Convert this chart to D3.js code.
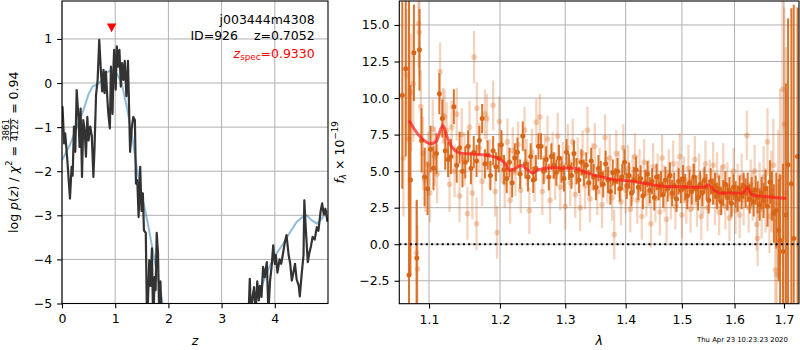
<!DOCTYPE html>
<html><head><meta charset="utf-8">
<script src="https://cdn.jsdelivr.net/npm/d3@7"></script>
<style>body{margin:0;background:#fff}svg{display:block}text{font-family:"DejaVu Sans",sans-serif}</style>
</head><body>
<svg id="c" width="800" height="350"></svg>
<script>
// ---------- data ----------
const zTicks = [0, 1, 2, 3, 4];
const pTicks = [-5, -4, -3, -2, -1, 0, 1];
const lamTicks = [1.1, 1.2, 1.3, 1.4, 1.5, 1.6, 1.7];
const fluxTicks = [-2.5, 0, 2.5, 5, 7.5, 10, 12.5, 15];
const zRange = [0, 5.0];
const pRange = [-5, 1.86];
const lamRange = [1.0606, 1.7316];
const fluxRange = [-4.07, 16.64];
const objName = "j003444m4308";
const objInfo = "ID=926\u00A0\u00A0\u00A0\u00A0z=0.7052";
const zSpec = 0.9330;
const zSpecMarkY = 1.25;
const chi2Num = "3861", chi2Den = "4122", chi2Val = "0.94";
const stamp = "Thu Apr 23 10:23:23 2020";

// log p(z) [z, logp]
const pzLine = [
[0.00,-0.55],[0.01,-0.54],[0.04,-1.37],[0.06,-1.14],[0.10,-1.75],[0.15,-2.62],[0.18,-1.9],[0.20,-2.1],
[0.225,-0.99],[0.25,-1.56],[0.276,-0.16],[0.31,-0.77],[0.33,-1.45],[0.35,-0.58],[0.376,-2.13],[0.40,-0.84],
[0.425,-1.05],[0.45,-1.67],[0.476,-0.77],[0.50,-1.3],[0.53,-0.99],[0.56,-1.2],[0.59,-2.13],[0.61,-1.52],
[0.64,-0.27],[0.67,0.07],[0.70,0.98],[0.73,0.3],[0.755,-0.19],[0.78,0.3],[0.80,-0.23],[0.825,0.26],
[0.85,-0.3],[0.87,-0.69],[0.90,-1.03],[0.92,0.37],[0.95,-0.7],[0.97,0.45],[0.98,0.75],[1.01,-0.15],
[1.03,0.83],[1.055,0.37],[1.08,0.75],[1.105,-0.08],[1.13,0.45],[1.155,0.07],[1.18,0.5],[1.21,-0.3],
[1.24,0.5],[1.28,-1.56],[1.31,-1.03],[1.34,-0.77],[1.37,-0.84],[1.39,-2.28],[1.415,-2.2],[1.44,-3.04],
[1.47,-1.9],[1.495,-2.9],[1.52,-2.5],[1.54,-3.34],[1.575,-3.4],[1.60,-5.6],[1.64,-4.02],[1.665,-4.6],
[1.69,-3.75],[1.715,-5.6],[1.74,-4.4],[1.76,-4.7],[1.78,-3.4],[1.805,-3.86],[1.83,-5.5],[1.85,-4.5],
[1.88,-5.6],[1.95,-6.5],[2.2,-7.0],[2.6,-7.5],[3.0,-7.0],[3.4,-6.0],[3.50,-5.5],[3.53,-4.44],
[3.55,-5.2],[3.58,-4.87],[3.61,-4.63],[3.64,-5.2],[3.67,-4.5],[3.70,-4.93],[3.72,-4.6],[3.75,-4.85],
[3.78,-4.17],[3.81,-4.4],[3.85,-4.06],[3.88,-5.2],[3.91,-4.5],[3.94,-4.17],[3.97,-3.68],[4.00,-4.1],
[4.02,-3.9],[4.05,-4.3],[4.09,-4.0],[4.12,-4.1],[4.15,-3.9],[4.19,-3.6],[4.22,-3.45],[4.26,-3.9],
[4.29,-4.1],[4.32,-4.48],[4.35,-4.3],[4.38,-4.1],[4.41,-4.45],[4.45,-4.6],[4.47,-4.84],[4.50,-4.4],
[4.54,-3.9],[4.555,-2.66],[4.58,-3.25],[4.62,-4.06],[4.65,-3.85],[4.68,-3.7],[4.71,-3.49],[4.75,-3.55],
[4.79,-3.27],[4.82,-3.35],[4.86,-2.92],[4.89,-2.73],[4.92,-2.98],[4.95,-2.85],[4.99,-3.15]];

// smooth prior-weighted curve [z, logp]
const pzSmooth = [
[0.00,-1.75],[0.15,-1.4],[0.28,-1.0],[0.40,-0.62],[0.50,-0.25],[0.58,-0.07],[0.65,-0.04],[0.74,0.05],
[0.83,0.23],[0.93,0.30],[1.03,0.22],[1.12,0.0],[1.21,-0.5],[1.31,-1.14],[1.41,-1.95],[1.50,-2.55],
[1.60,-3.1],[1.70,-3.75],[1.80,-4.4],[1.90,-5.05],[1.95,-5.4],[3.50,-5.4],[3.55,-5.0],[3.72,-4.7],
[3.91,-4.14],[4.03,-3.87],[4.16,-3.64],[4.29,-3.38],[4.41,-3.15],[4.54,-3.02],[4.60,-3.0],[4.69,-3.11],
[4.79,-3.19],[4.88,-3.08],[4.99,-2.89]];

// spectrum, main orientation [lambda, flux, err]
const specDark = [
[1.0645,10.2,6.4],[1.0690,12.0,6.0],[1.0733,-2.1,20],[1.0752,4.4,6.5],[1.0798,13.1,3.3],[1.0836,-0.95,4.0],
[1.0872,13.3,2.8],[1.0900,7.1,2.2],[1.0940,4.6,2.0],[1.0980,3.8,1.8],[1.1020,6.5,1.6],[1.1060,5.2,1.5],
[1.1100,6.2,1.4],[1.1140,10.3,1.4],[1.1180,8.6,1.3],[1.1220,6.4,1.3],[1.1260,5.8,1.2],[1.1300,6.0,1.2],
[1.1340,9.4,1.2],[1.1380,5.4,1.2],[1.1420,6.6,1.1],[1.1460,5.0,1.1],[1.1500,5.6,1.1],[1.1540,6.7,1.1],
[1.1580,5.2,1.1],[1.1620,6.3,1.1],[1.1660,5.7,1.1],[1.1700,7.1,1.0],[1.1740,8.6,1.0],[1.1780,5.5,1.0],
[1.1820,6.1,1.0],[1.1860,4.7,1.0],[1.1900,6.4,1.0],[1.1940,5.3,1.0],[1.1980,5.9,1.0],[1.2020,6.8,1.0],
[1.2060,5.1,1.0],[1.2100,4.5,1.0],[1.2140,5.6,1.0],[1.2180,4.2,1.0],[1.2220,5.9,1.0],[1.2260,6.3,1.0],
[1.2300,4.8,1.0],[1.2340,7.4,1.0],[1.2380,5.5,1.0],[1.2420,4.6,1.0],[1.2460,6.0,0.9],[1.2500,4.4,0.9],
[1.2540,5.2,0.9],[1.2580,6.7,0.9],[1.2620,6.7,0.9],[1.2660,5.0,0.9],[1.2700,5.8,0.9],[1.2740,4.6,0.9],
[1.2780,6.0,0.9],[1.2820,5.4,0.9],[1.2860,4.9,0.9],[1.2900,5.9,0.9],[1.2940,5.1,0.9],[1.2980,4.5,0.9],
[1.3020,6.3,0.9],[1.3060,5.3,0.9],[1.3100,4.7,0.9],[1.3140,6.2,0.9],[1.3180,5.0,0.9],[1.3220,4.4,0.9],
[1.3260,5.6,0.9],[1.3300,4.9,0.9],[1.3340,5.4,0.9],[1.3380,4.2,0.9],[1.3420,5.7,0.9],[1.3460,4.6,0.9],
[1.3500,3.9,0.9],[1.3540,5.2,0.9],[1.3580,4.8,0.9],[1.3620,4.1,0.9],[1.3660,5.5,0.9],[1.3700,4.4,0.9],
[1.3740,3.6,0.9],[1.3780,4.9,0.9],[1.3820,4.3,0.9],[1.3860,5.0,0.9],[1.3900,3.8,0.9],[1.3940,4.6,0.9],
[1.3980,5.6,0.9],[1.4020,4.0,0.9],[1.4060,4.7,0.9],[1.4100,3.5,0.9],[1.4140,4.4,0.9],[1.4180,5.1,0.9],
[1.4220,3.9,0.9],[1.4260,4.5,0.9],[1.4300,3.3,0.9],[1.4340,4.2,0.9],[1.4380,4.8,0.9],[1.4420,3.7,0.9],
[1.4460,4.3,0.9],[1.4500,3.2,0.9],[1.4540,4.6,0.9],[1.4580,3.9,0.9],[1.4620,4.1,0.9],[1.4660,3.4,0.9],
[1.4700,4.4,0.9],[1.4740,3.8,0.9],[1.4780,4.7,0.9],[1.4820,3.5,0.9],[1.4860,4.0,0.9],[1.4900,3.1,0.9],
[1.4940,4.3,0.9],[1.4980,3.7,0.9],[1.5020,4.5,0.9],[1.5060,3.9,0.9],[1.5100,3.3,0.9],[1.5140,4.2,0.9],
[1.5180,3.6,0.9],[1.5220,4.6,0.9],[1.5260,3.8,0.9],[1.5300,3.2,0.9],[1.5340,4.1,0.9],[1.5380,3.5,0.9],
[1.5420,4.4,0.9],[1.5460,3.9,0.9],[1.5500,3.0,0.9],[1.5540,4.3,0.9],[1.5580,3.6,0.9],[1.5620,4.0,0.9],
[1.5660,3.3,0.9],[1.5700,3.8,0.9],[1.5740,2.9,0.9],[1.5780,3.5,0.9],[1.5820,4.1,0.9],[1.5860,3.2,0.9],
[1.5900,3.7,0.9],[1.5940,2.8,0.9],[1.5980,3.9,0.9],[1.6020,3.4,0.9],[1.6060,3.1,0.9],[1.6100,3.8,0.9],
[1.6140,3.3,0.9],[1.6180,4.0,0.9],[1.6220,3.5,1.0],[1.6260,3.9,1.0],[1.6300,3.1,1.0],[1.6340,3.6,1.0],
[1.6380,2.9,1.0],[1.6420,3.7,1.0],[1.6460,3.2,1.1],[1.6500,2.7,1.1],[1.6540,3.5,1.1],[1.6580,3.0,1.2],
[1.6620,3.8,1.3],[1.6660,2.6,1.4],[1.6710,4.25,1.5],[1.6750,3.3,1.7],[1.6790,2.1,2.0],[1.6840,2.3,2.6],
[1.6890,0.96,3.5],[1.6920,0.27,4.5],[1.6980,-0.5,6.0],[1.7040,2.0,9.0],[1.7085,5.44,10.0],[1.7155,4.14,12.0],
[1.7205,0.39,16.0],[1.7285,6.0,10.2]];

// spectrum, other orientations [lambda, flux, err]
const specLight = [
[1.0660,5.9,4.0],[1.0700,11.6,4.5],[1.0725,7.2,4.5],[1.0760,10.4,4.0],[1.0790,11.0,4.0],[1.0830,-0.6,3.5],
[1.0845,-1.7,3.0],[1.0860,15.1,3.0],[1.0870,14.5,3.0],[1.0890,9.4,2.5],[1.0920,6.2,2.5],[1.0950,4.4,2.2],
[1.0985,5.5,2.2],[1.1010,3.5,2.0],[1.1050,7.9,2.0],[1.1080,6.0,2.0],[1.1110,4.8,2.0],[1.1150,11.8,2.0],
[1.1190,8.8,1.9],[1.1210,8.7,1.9],[1.1240,7.8,1.9],[1.1280,4.1,1.9],[1.1310,8.0,1.8],[1.1350,5.0,1.8],
[1.1380,8.9,1.8],[1.1420,3.3,1.8],[1.1450,7.5,1.8],[1.1490,5.8,1.8],[1.1530,2.1,1.8],[1.1560,8.0,1.8],
[1.1600,3.5,1.8],[1.1625,12.8,1.8],[1.1660,1.4,1.8],[1.1665,9.3,1.8],[1.1700,6.6,1.7],[1.1740,4.3,1.7],
[1.1780,8.9,1.7],[1.1810,8.6,1.7],[1.1850,5.5,1.7],[1.1900,9.5,1.7],[1.1930,3.6,1.7],[1.1957,0.8,1.8],
[1.1990,8.4,1.7],[1.2030,5.9,1.7],[1.2070,4.2,1.7],[1.2110,7.0,1.6],[1.2150,3.0,1.6],[1.2190,6.4,1.6],
[1.2230,4.9,1.6],[1.2270,6.8,1.6],[1.2310,3.7,1.6],[1.2367,7.8,1.6],[1.2400,5.6,1.6],[1.2440,2.3,1.6],
[1.2480,6.3,1.6],[1.2520,4.5,1.6],[1.2547,8.35,1.6],[1.2600,8.7,1.6],[1.2640,3.6,1.6],[1.2680,5.9,1.6],
[1.2720,7.2,1.6],[1.2760,3.0,1.6],[1.2800,6.1,1.6],[1.2840,4.6,1.6],[1.2880,7.4,1.6],[1.2920,3.9,1.6],
[1.2960,5.4,1.6],[1.3000,2.6,1.6],[1.3040,6.6,1.6],[1.3080,4.2,1.6],[1.3120,7.0,1.6],[1.3160,3.4,1.6],
[1.3200,5.7,1.6],[1.3240,2.5,1.6],[1.3280,6.2,1.6],[1.3320,4.0,1.6],[1.3360,7.8,1.6],[1.3400,3.1,1.6],
[1.3440,5.3,1.6],[1.3480,6.7,1.6],[1.3520,3.6,1.6],[1.3560,5.0,1.6],[1.3600,2.7,1.6],[1.3650,7.3,1.6],
[1.3690,4.4,1.6],[1.3730,5.9,1.6],[1.3770,3.2,1.6],[1.3805,0.66,1.7],[1.3840,6.2,1.6],[1.3880,4.8,1.6],
[1.3920,2.9,1.6],[1.3960,6.6,1.6],[1.4000,3.7,1.6],[1.4040,5.2,1.6],[1.4080,2.4,1.6],[1.4120,4.5,1.6],
[1.4160,6.0,1.6],[1.4200,3.0,1.6],[1.4240,4.9,1.6],[1.4280,1.9,1.6],[1.4320,5.6,1.6],[1.4360,3.5,1.6],
[1.4400,4.2,1.6],[1.4440,1.4,1.6],[1.4480,5.3,1.6],[1.4520,3.1,1.6],[1.4560,4.6,1.6],[1.4600,2.2,1.6],
[1.4640,5.9,1.6],[1.4680,3.8,1.6],[1.4720,1.7,1.6],[1.4760,4.9,1.6],[1.4800,3.3,1.6],[1.4840,5.5,1.6],
[1.4880,2.6,1.6],[1.4920,4.1,1.6],[1.4960,6.0,1.6],[1.5000,2.0,1.6],[1.5040,4.4,1.6],[1.5080,3.0,1.6],
[1.5120,5.2,1.6],[1.5160,2.4,1.6],[1.5200,3.9,1.6],[1.5240,5.8,1.6],[1.5280,2.8,1.6],[1.5320,4.6,1.6],
[1.5360,1.9,1.6],[1.5400,3.6,1.6],[1.5440,5.5,1.6],[1.5480,2.5,1.6],[1.5520,4.2,1.6],[1.5586,5.4,1.6],
[1.5620,2.9,1.6],[1.5660,4.7,1.6],[1.5700,2.2,1.6],[1.5740,3.8,1.6],[1.5780,5.3,1.6],[1.5820,2.6,1.6],
[1.5860,4.0,1.6],[1.5900,1.8,1.6],[1.5940,3.4,1.6],[1.5980,5.0,1.6],[1.6020,2.3,1.6],[1.6060,3.9,1.6],
[1.6100,2.0,1.6],[1.6140,4.6,1.6],[1.6180,3.0,1.7],[1.6244,7.44,1.7],[1.6280,2.5,1.7],[1.6320,4.1,1.7],
[1.6360,3.3,1.7],[1.6400,5.0,1.8],[1.6440,1.37,1.8],[1.6460,0.39,1.9],[1.6500,3.7,1.9],[1.6540,2.4,2.0],
[1.6580,4.6,2.1],[1.6620,3.0,2.2],[1.6660,7.0,2.3],[1.6700,1.9,2.5],[1.6740,3.6,2.8],[1.6780,5.4,3.2],
[1.6820,-1.77,3.8],[1.6850,-2.1,4.5],[1.6880,2.8,5.0],[1.6920,4.6,6.0],[1.6970,10.6,7.0],[1.7007,8.2,8.0],
[1.7040,3.5,10.0]];

// best-fit model [lambda, flux]
const model = [
[1.0733,8.46],[1.080,7.9],[1.090,7.25],[1.102,6.87],[1.110,7.05],[1.1187,8.12],[1.125,7.3],[1.132,6.6],
[1.146,6.2],[1.1706,6.14],[1.185,6.05],[1.200,5.8],[1.208,5.5],[1.2144,5.05],[1.222,5.15],[1.2319,5.39],
[1.240,5.15],[1.249,4.87],[1.258,5.1],[1.277,5.23],[1.3145,5.2],[1.325,5.05],[1.3424,4.78],[1.36,4.6],
[1.38,4.42],[1.40,4.35],[1.425,4.22],[1.45,4.05],[1.47,3.95],[1.50,3.93],[1.53,3.9],[1.542,3.92],
[1.549,4.07],[1.556,3.85],[1.572,3.5],[1.60,3.5],[1.615,3.5],[1.6256,3.84],[1.634,3.4],[1.65,3.3],
[1.68,3.2],[1.705,3.12]];

// ---------- drawing ----------
const svg = d3.select("#c");
const FS = 12.5, SS = 8.75;
const TL = 4.86, TP = 4.86;
const L = {x0:62, x1:328, y0:1, y1:303.5};
const R = {x0:399.3, x1:799, y0:1, y1:303.7};
const orange = "#d96616";

const xz = d3.scaleLinear().domain(zRange).range([L.x0, L.x1]);
const yp = d3.scaleLinear().domain(pRange).range([L.y1, L.y0]);
const xl = d3.scaleLog().domain(lamRange).range([R.x0, R.x1]);
const yf = d3.scaleLinear().domain(fluxRange).range([R.y1, R.y0]);

const defs = svg.append("defs");
defs.append("clipPath").attr("id","clipL").append("rect")
  .attr("x",L.x0).attr("y",L.y0).attr("width",L.x1-L.x0).attr("height",L.y1-L.y0);
defs.append("clipPath").attr("id","clipR").append("rect")
  .attr("x",R.x0).attr("y",R.y0).attr("width",R.x1-R.x0).attr("height",R.y1-R.y0);

function grid(g, xs, xt, ys, yt, B){
  g.selectAll(null).data(xt).enter().append("line")
    .attr("x1",d=>xs(d)).attr("x2",d=>xs(d)).attr("y1",B.y0).attr("y2",B.y1)
    .attr("stroke","#b0b0b0").attr("stroke-width",1);
  g.selectAll(null).data(yt).enter().append("line")
    .attr("y1",d=>ys(d)).attr("y2",d=>ys(d)).attr("x1",B.x0).attr("x2",B.x1)
    .attr("stroke","#b0b0b0").attr("stroke-width",1);
}

function axes(xs, xt, xf, ys, yt, yf_, B){
  const gx = svg.append("g").attr("transform",`translate(0,${B.y1})`)
    .call(d3.axisBottom(xs).tickValues(xt).tickFormat(xf).tickSize(TL).tickPadding(6.2));
  const gy = svg.append("g").attr("transform",`translate(${B.x0},0)`)
    .call(d3.axisLeft(ys).tickValues(yt).tickFormat(yf_).tickSize(TL).tickPadding(TP));
  [gx,gy].forEach(g=>{
    g.select(".domain").remove();
    g.selectAll("text").attr("font-family","DejaVu Sans").attr("font-size",FS).attr("fill","#000");
    g.selectAll("line").attr("stroke","#000").attr("stroke-width",1.1);
  });
  svg.append("rect").attr("x",B.x0).attr("y",B.y0).attr("width",B.x1-B.x0).attr("height",B.y1-B.y0)
    .attr("fill","none").attr("stroke","#000").attr("stroke-width",1.1);
}

// ----- left panel -----
const gL = svg.append("g");
grid(gL, xz, zTicks, yp, pTicks, L);
const gLd = svg.append("g").attr("clip-path","url(#clipL)");
const lineZ = d3.line().x(d=>xz(d[0])).y(d=>yp(d[1]));
gLd.append("path").datum(pzSmooth).attr("d",lineZ).attr("fill","none")
  .attr("stroke","#1f77b4").attr("stroke-opacity",0.5).attr("stroke-width",2);
gLd.append("path").datum(pzLine).attr("d",lineZ).attr("fill","none")
  .attr("stroke","#333").attr("stroke-width",2.2).attr("stroke-linejoin","round");
// z_spec marker
{
  const cx = xz(zSpec), cy = yp(zSpecMarkY);
  svg.append("path").attr("d",`M${cx-4.7},${cy-4.3}L${cx+4.7},${cy-4.3}L${cx},${cy+4.4}Z`).attr("fill","red");
}
axes(xz, zTicks, d3.format("d"), yp, pTicks, d3.format("d"), L);

// annotation text
const annX = L.x0 + 0.95*(L.x1-L.x0);
svg.append("text").attr("x",annX).attr("y",24).attr("text-anchor","end").attr("font-size",FS).text(objName);
svg.append("text").attr("x",annX).attr("y",39.5).attr("text-anchor","end").attr("font-size",FS).text(objInfo);

function pieces(g, list){
  let x = 0;
  list.forEach(p=>{
    if(p.frac){
      const n = g.append("text").attr("y",-8.6).attr("font-size",SS).text(p.frac[0]);
      const d = g.append("text").attr("y",0.6).attr("font-size",SS).text(p.frac[1]);
      const w = Math.max(n.node().getComputedTextLength(), d.node().getComputedTextLength()) + 2;
      n.attr("x", x + (w - n.node().getComputedTextLength())/2);
      d.attr("x", x + (w - d.node().getComputedTextLength())/2);
      g.append("line").attr("x1",x+0.5).attr("x2",x+w-0.5).attr("y1",-6.9).attr("y2",-6.9)
        .attr("stroke","#000").attr("stroke-width",0.8);
      x += w;
      return;
    }
    const t = g.append("text").attr("x",x).attr("y",p.dy||0).attr("font-size",p.s||FS)
      .attr("font-style",p.it?"italic":"normal").attr("fill",p.c||"#000").text(p.t);
    x += t.node().getComputedTextLength();
  });
  return x;
}

// z_spec text (red)
{
  const g = svg.append("g");
  const w = pieces(g,[{t:"z",it:true,c:"red"},{t:"spec",s:SS,dy:2.6,c:"red"},{t:"=0.9330",c:"red"}]);
  g.attr("transform",`translate(${annX-w},57.5)`);
}

// left y label
{
  const g = svg.append("g");
  const w = pieces(g,[{t:"log\u00A0"},{t:"p",it:true},{t:"("},{t:"z",it:true},{t:")\u00A0/\u00A0"},
    {t:"\u03C7",it:true},{t:"2",s:SS,dy:-5.2},{t:"\u00A0=\u00A0"},{frac:[chi2Num,chi2Den]},{t:"\u00A0=\u00A0"+chi2Val}]);
  g.attr("transform",`translate(17.5,${(L.y0+L.y1)/2 + w/2}) rotate(-90)`);
}
svg.append("text").attr("x",(L.x0+L.x1)/2).attr("y",345).attr("text-anchor","middle")
  .attr("font-size",FS).attr("font-style","italic").text("z");

// ----- right panel -----
const gR = svg.append("g");
grid(gR, xl, lamTicks, yf, fluxTicks, R);
const gRd = svg.append("g").attr("clip-path","url(#clipR)");
// light
gRd.append("g").selectAll("line").data(specLight).enter().append("line")
  .attr("x1",d=>xl(d[0])).attr("x2",d=>xl(d[0])).attr("y1",d=>yf(d[1]-d[2])).attr("y2",d=>yf(d[1]+d[2]))
  .attr("stroke",orange).attr("stroke-opacity",0.28).attr("stroke-width",2.3);
gRd.append("g").selectAll("circle").data(specLight).enter().append("circle")
  .attr("cx",d=>xl(d[0])).attr("cy",d=>yf(d[1])).attr("r",2.8)
  .attr("fill",orange).attr("fill-opacity",0.3);
// dark
gRd.append("g").selectAll("line").data(specDark).enter().append("line")
  .attr("x1",d=>xl(d[0])).attr("x2",d=>xl(d[0])).attr("y1",d=>yf(d[1]-d[2])).attr("y2",d=>yf(d[1]+d[2]))
  .attr("stroke",orange).attr("stroke-opacity",0.9).attr("stroke-width",2);
gRd.append("g").selectAll("circle").data(specDark).enter().append("circle")
  .attr("cx",d=>xl(d[0])).attr("cy",d=>yf(d[1])).attr("r",2.5)
  .attr("fill",orange);
// zero line
gRd.append("line").attr("x1",R.x0).attr("x2",R.x1).attr("y1",yf(0)).attr("y2",yf(0))
  .attr("stroke","#000").attr("stroke-width",2).attr("stroke-dasharray","2,3.3");
// model
gRd.append("path").datum(model)
  .attr("d",d3.line().x(d=>xl(d[0])).y(d=>yf(d[1])).curve(d3.curveMonotoneX))
  .attr("fill","none").attr("stroke","#ff1a1a").attr("stroke-opacity",0.7).attr("stroke-width",3);

axes(xl, lamTicks, d3.format(".1f"), yf, fluxTicks, d3.format(".1f"), R);

// right y label
{
  const g = svg.append("g");
  const w = pieces(g,[{t:"f",it:true},{t:"\u03BB",it:true,s:SS,dy:2.7},{t:"\u00A0\u00D7\u00A010"},{t:"\u221219",s:SS,dy:-5.4}]);
  g.attr("transform",`translate(343.5,${(R.y0+R.y1)/2 + w/2}) rotate(-90)`);
}
svg.append("text").attr("x",(R.x0+R.x1)/2).attr("y",345).attr("text-anchor","middle")
  .attr("font-size",FS).attr("font-style","italic").text("\u03BB");

svg.append("text").attr("x",697).attr("y",341.5).attr("font-size",6.9).text(stamp);
</script>
</body></html>
